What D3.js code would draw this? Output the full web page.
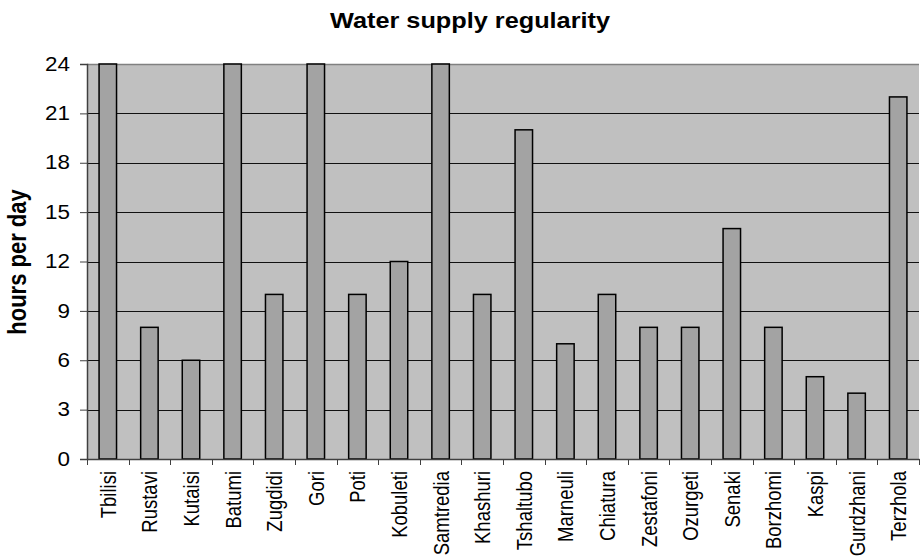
<!DOCTYPE html>
<html>
<head>
<meta charset="utf-8">
<script src="https://cdn.jsdelivr.net/npm/d3@7"></script>
<style>
  html, body { margin: 0; padding: 0; background: #fff; }
  svg { display: block; font-family: Arial, "Liberation Sans", sans-serif; }
</style>
</head>
<body>
<svg id="chart" width="920" height="558"></svg>
<script>
const categories = ["Tbilisi","Rustavi","Kutaisi","Batumi","Zugdidi","Gori","Poti","Kobuleti","Samtredia","Khashuri","Tshaltubo","Marneuli","Chiatura","Zestafoni","Ozurgeti","Senaki","Borzhomi","Kaspi","Gurdzhani","Terzhola"];
const hours = [24, 8, 6, 24, 10, 24, 10, 12, 24, 10, 20, 7, 10, 8, 8, 14, 8, 5, 4, 22];
const yTicks = [0, 3, 6, 9, 12, 15, 18, 21, 24];
const chartTitle = "Water supply regularity";
const yTitle = "hours per day";

const svg = d3.select("#chart");
const pLeft = 87, pRight = 919, pTop = 64, pBottom = 459;
const stretch = 1.15;
const FONT = "Arial, 'Liberation Sans', sans-serif";

const x = d3.scaleBand().domain(categories).range([pLeft, pRight]).paddingInner(0).paddingOuter(0);
const y = d3.scaleLinear().domain([0, 24]).range([pBottom, pTop]);

// plot background
svg.append("rect").attr("x", pLeft).attr("y", pTop).attr("width", pRight - pLeft).attr("height", pBottom - pTop)
  .attr("fill", "#c0c0c0");

// gridlines
svg.append("g").selectAll("line").data(yTicks.filter(d => d > 0 && d < 24)).join("line")
  .attr("x1", pLeft).attr("x2", pRight)
  .attr("y1", d => Math.round(y(d)) + 0.5).attr("y2", d => Math.round(y(d)) + 0.5)
  .attr("stroke", "#111").attr("stroke-width", 1);

// top border
svg.append("line").attr("x1", pLeft).attr("x2", pRight).attr("y1", pTop + 0.5).attr("y2", pTop + 0.5)
  .attr("stroke", "#808080").attr("stroke-width", 1.5);

// bars
const bw = x.bandwidth() * 0.42;
svg.append("g").selectAll("rect").data(categories).join("rect")
  .attr("x", d => x(d) + (x.bandwidth() - bw) / 2)
  .attr("y", (d, i) => y(hours[i]))
  .attr("width", bw)
  .attr("height", (d, i) => y(0) - y(hours[i]))
  .attr("fill", "#a3a3a3")
  .attr("stroke", "#000").attr("stroke-width", 1.5);

// y axis
const yAxis = d3.axisLeft(y).tickValues(yTicks).tickSize(7).tickPadding(10);
const gy = svg.append("g").attr("transform", `translate(${pLeft},0)`).call(yAxis);
gy.select(".domain").attr("stroke", "#404040").attr("stroke-width", 1.5);
gy.selectAll(".tick line").attr("stroke", "#404040");
gy.selectAll(".tick text")
  .attr("font-size", 19.5).attr("fill", "#000").attr("font-family", FONT)
  .attr("x", 0).attr("transform", `translate(-17,0) scale(${stretch},1)`);

// x axis
const xAxis = d3.axisBottom(x).tickSize(0).tickPadding(0);
const gx = svg.append("g").attr("transform", `translate(0,${pBottom})`).call(xAxis);
gx.select(".domain").attr("stroke", "#404040").attr("stroke-width", 1.5);
gx.selectAll(".tick text")
  .attr("font-size", 18.5).attr("fill", "#000").attr("font-family", FONT)
  .attr("text-anchor", "end").attr("dy", null).attr("y", 0)
  .attr("transform", `translate(8,12) scale(${stretch},1) rotate(-90)`);
// boundary tick marks
const bounds = categories.map(c => x(c)).concat([pRight]);
svg.append("g").selectAll("line").data(bounds).join("line")
  .attr("x1", d => Math.round(d) + 0.5).attr("x2", d => Math.round(d) + 0.5)
  .attr("y1", pBottom).attr("y2", pBottom + 6)
  .attr("stroke", "#404040").attr("stroke-width", 1);

// title
svg.append("text").attr("transform", `translate(470,28) scale(${stretch},1)`).attr("text-anchor", "middle")
  .attr("font-size", 22).attr("font-weight", "bold").attr("font-family", FONT).text(chartTitle);

// y title
svg.append("text").attr("transform", `translate(26,262) scale(${stretch},1) rotate(-90)`).attr("text-anchor", "middle")
  .attr("font-size", 22).attr("font-weight", "bold").attr("font-family", FONT).text(yTitle);
</script>
</body>
</html>
